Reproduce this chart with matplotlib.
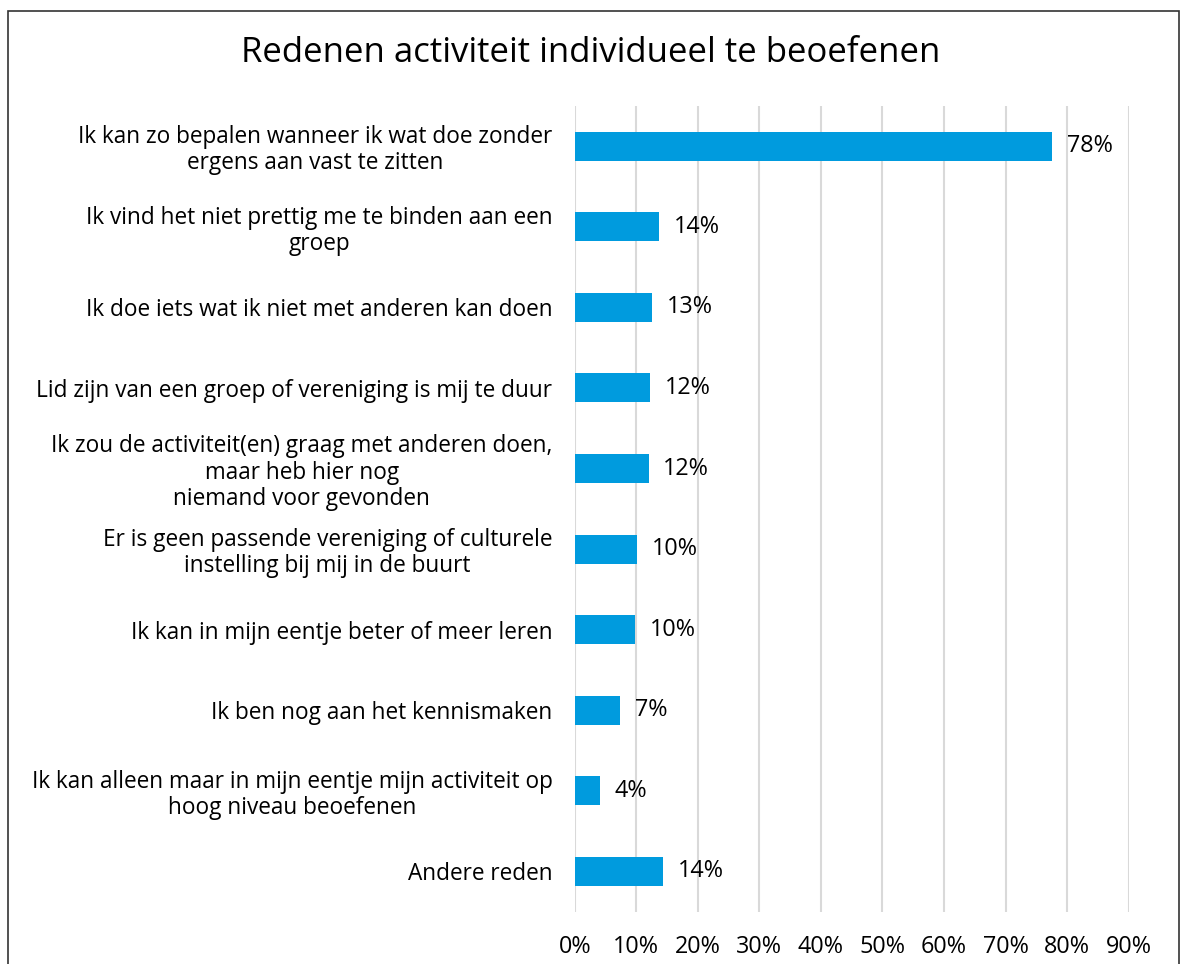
import matplotlib
matplotlib.use("Agg")
import matplotlib.pyplot as plt
from matplotlib.patches import Rectangle

# categorieen (van boven naar beneden) en aandelen in %
redenen = [
    "Ik kan zo bepalen wanneer ik wat doe zonder\nergens aan vast te zitten",
    "Ik vind het niet prettig me te binden aan een\ngroep",
    "Ik doe iets wat ik niet met anderen kan doen",
    "Lid zijn van een groep of vereniging is mij te duur",
    "Ik zou de activiteit(en) graag met anderen doen,\nmaar heb hier nog\nniemand voor gevonden",
    "Er is geen passende vereniging of culturele\ninstelling bij mij in de buurt",
    "Ik kan in mijn eentje beter of meer leren",
    "Ik ben nog aan het kennismaken",
    "Ik kan alleen maar in mijn eentje mijn activiteit op\nhoog niveau beoefenen",
    "Andere reden",
]
aandeel = [77.6, 13.7, 12.6, 12.2, 12.0, 10.1, 9.8, 7.4, 4.1, 14.3]
ticks = [0, 10, 20, 30, 40, 50, 60, 70, 80, 90]

plt.rcParams['font.family'] = ['Open Sans', 'DejaVu Sans']

fig = plt.figure(figsize=(11.82, 9.64), dpi=100)
ax = fig.add_axes([574.7/1182, 1-911.7/964, (1128.7-574.7)/1182, (911.7-106)/964])

pos = list(range(len(redenen)))
ax.barh(pos, aandeel, height=0.36, color='#009bde', zorder=3)
ax.set_ylim(len(redenen)-0.5, -0.5)
ax.set_xlim(0, 90)

for p, v in zip(pos, aandeel):
    ax.text(v + 2.4, p, f"{v:.0f}%", va='center', ha='left', fontsize=16.8, color='black')

ax.set_xticks(ticks)
ax.set_xticklabels([f"{t}%" for t in ticks], fontsize=16.8)
ax.set_yticks(pos)
ax.set_yticklabels(redenen, fontsize=16.3, linespacing=1.12)
for t in ax.get_yticklabels():
    t.set_multialignment('center')
ax.tick_params(axis='y', length=0, pad=16)
ax.tick_params(axis='x', length=0, pad=17)

ax.grid(axis='x', color='#d9d9d9', linewidth=1.5, zorder=0)
for s in ax.spines.values():
    s.set_visible(False)

fig.text(0.5, 1-53/964, "Redenen activiteit individueel te beoefenen",
         ha='center', va='center', fontsize=25)

fig.patches.append(Rectangle((8/1182, -0.05), (1179-8)/1182, 1.05-11/964,
                             transform=fig.transFigure, fill=False,
                             edgecolor='#333333', linewidth=1.2))

fig.savefig("out.png", dpi=100)
